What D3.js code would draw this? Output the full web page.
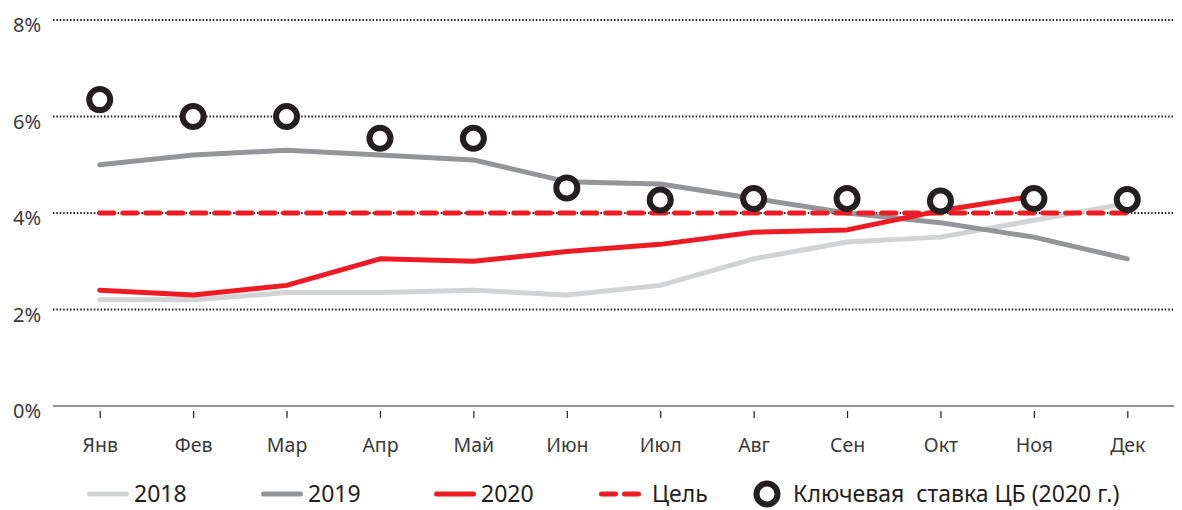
<!DOCTYPE html>
<html>
<head>
<meta charset="utf-8">
<script src="https://cdn.jsdelivr.net/npm/d3@7"></script>
<style>
  body { margin: 0; background: #fff; }
  svg text { font-family: "Noto Sans", sans-serif; fill: #231f20; }
</style>
</head>
<body>
<div id="chart"></div>
<script>
var months = ["Янв", "Фев", "Мар", "Апр", "Май", "Июн", "Июл", "Авг", "Сен", "Окт", "Ноя", "Дек"];
var yTicks = [0, 2, 4, 6, 8];

// inflation by month, %
var infl2018 = [2.2, 2.2, 2.35, 2.35, 2.4, 2.3, 2.5, 3.05, 3.4, 3.5, 3.85, 4.2];
var infl2019 = [5.0, 5.2, 5.3, 5.2, 5.1, 4.65, 4.6, 4.3, 4.0, 3.8, 3.5, 3.05];
var infl2020 = [2.4, 2.3, 2.5, 3.05, 3.0, 3.2, 3.35, 3.6, 3.65, 4.05, 4.35];
var target = [4, 4, 4, 4, 4, 4, 4, 4, 4, 4, 4, 4];
var keyRate = [6.35, 6.0, 6.0, 5.55, 5.55, 4.52, 4.27, 4.3, 4.3, 4.25, 4.3, 4.28];

var legendLabels = ["2018", "2019", "2020", "Цель", "Ключевая  ставка ЦБ (2020 г.)"];

var width = 1182, height = 510;
// plot area edges (named so they don't clash with window.top)
var plotLeft = 53, plotRight = 1174, plotTop = 20, plotBottom = 406;

var svg = d3.select("#chart").append("svg")
    .attr("width", width)
    .attr("height", height);

var x = d3.scalePoint()
    .domain(months)
    .range([plotLeft, plotRight])
    .padding(0.5);

var y = d3.scaleLinear()
    .domain([0, 8])
    .range([plotBottom, plotTop]);

// dotted gridlines
svg.append("g")
    .selectAll("line")
    .data(yTicks.filter(function(d) { return d > 0; }))
    .join("line")
    .attr("x1", plotLeft)
    .attr("x2", plotRight)
    .attr("y1", function(d) { return y(d); })
    .attr("y2", function(d) { return y(d); })
    .attr("stroke", "#231f20")
    .attr("stroke-width", 2)
    .attr("stroke-dasharray", "1.5,1.9");

// baseline
svg.append("line")
    .attr("x1", plotLeft).attr("x2", plotRight)
    .attr("y1", y(0)).attr("y2", y(0))
    .attr("stroke", "#6d6e71")
    .attr("stroke-width", 1.5);

// y labels
svg.append("g")
    .selectAll("text")
    .data(yTicks)
    .join("text")
    .attr("x", 41)
    .attr("y", function(d) { return y(d) + 5; })
    .attr("dy", "0.35em")
    .attr("text-anchor", "end")
    .style("font-size", "20px")
    .style("fill", "#3a3a3c")
    .text(function(d) { return d + "%"; });

// x axis ticks + month labels
var xAxis = d3.axisBottom(x).tickSize(7).tickPadding(20);
var gx = svg.append("g")
    .attr("transform", "translate(0," + (y(0) + 5) + ")")
    .call(xAxis);
gx.select(".domain").remove();
gx.selectAll(".tick line").attr("stroke", "#231f20").attr("stroke-width", 1.2);
gx.selectAll(".tick text")
    .style("font-family", "'Noto Sans', sans-serif")
    .style("font-size", "19.5px")
    .style("fill", "#3a3a3c");

var line = d3.line()
    .x(function(d, i) { return x(months[i]); })
    .y(function(d) { return y(d); });

function drawLine(data, color, dash) {
    svg.append("path")
        .datum(data)
        .attr("fill", "none")
        .attr("stroke", color)
        .attr("stroke-width", 5)
        .attr("stroke-linejoin", "round")
        .attr("stroke-linecap", "round")
        .attr("stroke-dasharray", dash || null)
        .attr("d", line);
}

drawLine(infl2018, "#d1d3d4");
drawLine(infl2019, "#939598");
drawLine(infl2020, "#ed1c24");
drawLine(target, "#ed1c24", "14,9");

// key rate circles
svg.append("g")
    .selectAll("circle")
    .data(keyRate)
    .join("circle")
    .attr("cx", function(d, i) { return x(months[i]); })
    .attr("cy", function(d) { return y(d); })
    .attr("r", 10.5)
    .attr("fill", "#fff")
    .attr("stroke", "#231f20")
    .attr("stroke-width", 6);

// legend
var ly = 494;
var legendX = [87, 261, 434, 599, 767];
var legendColors = ["#d1d3d4", "#939598", "#ed1c24", "#ed1c24"];

var leg = svg.append("g");
legendLabels.forEach(function(label, i) {
    var lx = legendX[i];
    var tx;
    if (i < 4) {
        leg.append("line")
            .attr("x1", lx + 2.5).attr("x2", lx + 39.5)
            .attr("y1", ly).attr("y2", ly)
            .attr("stroke", legendColors[i])
            .attr("stroke-width", 5)
            .attr("stroke-linecap", "round")
            .attr("stroke-dasharray", i === 3 ? "14,9" : null);
        tx = lx + 47;
        if (i === 3) tx = lx + 53;
    } else {
        leg.append("circle")
            .attr("cx", lx).attr("cy", ly)
            .attr("r", 10.5)
            .attr("fill", "#fff")
            .attr("stroke", "#231f20")
            .attr("stroke-width", 6);
        tx = lx + 26;
    }
    leg.append("text")
        .attr("x", tx)
        .attr("y", ly)
        .attr("dy", "0.36em")
        .style("font-size", "23px")
        .style("white-space", "pre")
        .text(label);
});
</script>
</body>
</html>
